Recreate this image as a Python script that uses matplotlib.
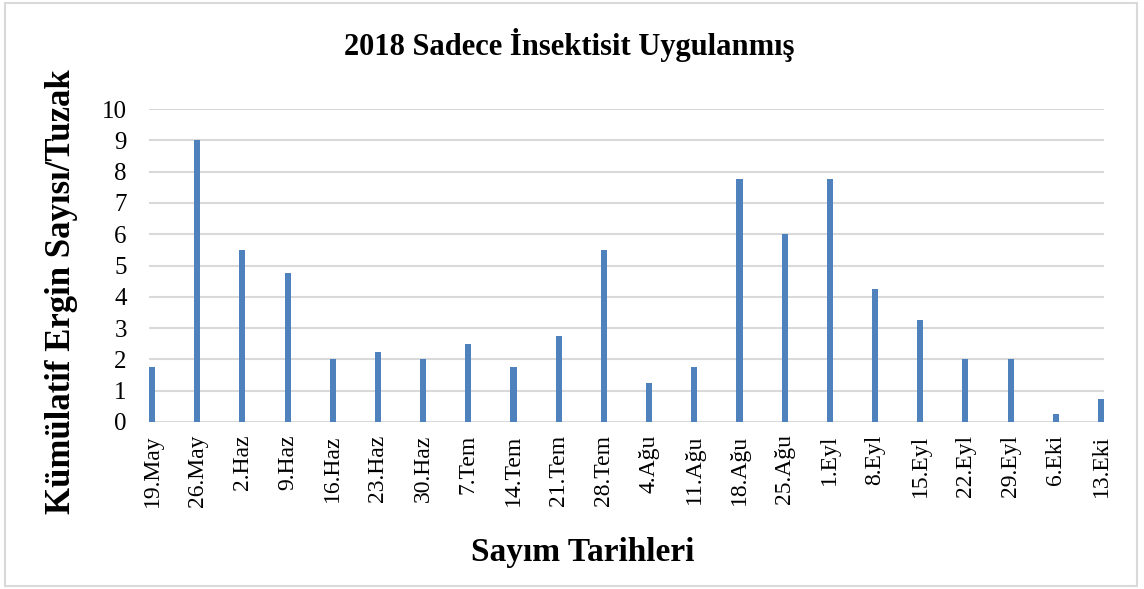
import matplotlib
matplotlib.use("Agg")
import matplotlib.pyplot as plt
from matplotlib.patches import Rectangle

categories = ["19.May", "26.May", "2.Haz", "9.Haz", "16.Haz", "23.Haz", "30.Haz",
              "7.Tem", "14.Tem", "21.Tem", "28.Tem", "4.Ağu", "11.Ağu", "18.Ağu",
              "25.Ağu", "1.Eyl", "8.Eyl", "15.Eyl", "22.Eyl", "29.Eyl", "6.Eki", "13.Eki"]
values = [1.75, 9, 5.5, 4.75, 2, 2.25, 2, 2.5, 1.75, 2.75, 5.5, 1.25, 1.75, 7.75,
          6, 7.75, 4.25, 3.25, 2, 2, 0.25, 0.75]
yticks = list(range(0, 11))

plt.rcParams['font.family'] = ['Liberation Serif', 'DejaVu Serif']

fig = plt.figure(figsize=(11.44, 5.89), dpi=100)
ax = fig.add_axes([149/1144, 1-422/589, (1104-149)/1144, (422-109)/589])

w = 0.135
x = list(range(len(categories)))
ax.bar(x, values, width=w, color="#4f81bd", zorder=3)
ax.set_xlim(-w/2, len(categories)-1+w/2)
ax.set_ylim(0, 10)
ax.set_yticks(yticks)
ax.set_yticklabels([str(t) for t in yticks], fontsize=18)
ax.set_xticks(x)
ax.set_xticklabels(categories, rotation=90, fontsize=17)
ax.tick_params(axis='both', length=0)
ax.tick_params(axis='y', pad=16)
ax.tick_params(axis='x', pad=9)
ax.grid(axis='y', color="#d9d9d9", linewidth=1.5, zorder=0)
for s in ax.spines.values():
    s.set_visible(False)

fig.text(569/1144, 1-45/589, "2018 Sadece İnsektisit Uygulanmış", fontsize=22,
         fontweight='bold', ha='center', va='center')
fig.text(62/1144, 1-292/589, "Kümülatif Ergin Sayısı/Tuzak", fontsize=25,
         fontweight='bold', ha='center', va='center', rotation=90)
fig.text(583/1144, 1-553/589, "Sayım Tarihleri", fontsize=24,
         fontweight='bold', ha='center', va='center')

fig.patches.append(Rectangle((5/1144, 3/589), 1132/1144, 583/589, transform=fig.transFigure,
                             fill=False, edgecolor="#d9d9d9", linewidth=1.5))

fig.savefig("out.png", dpi=100)
